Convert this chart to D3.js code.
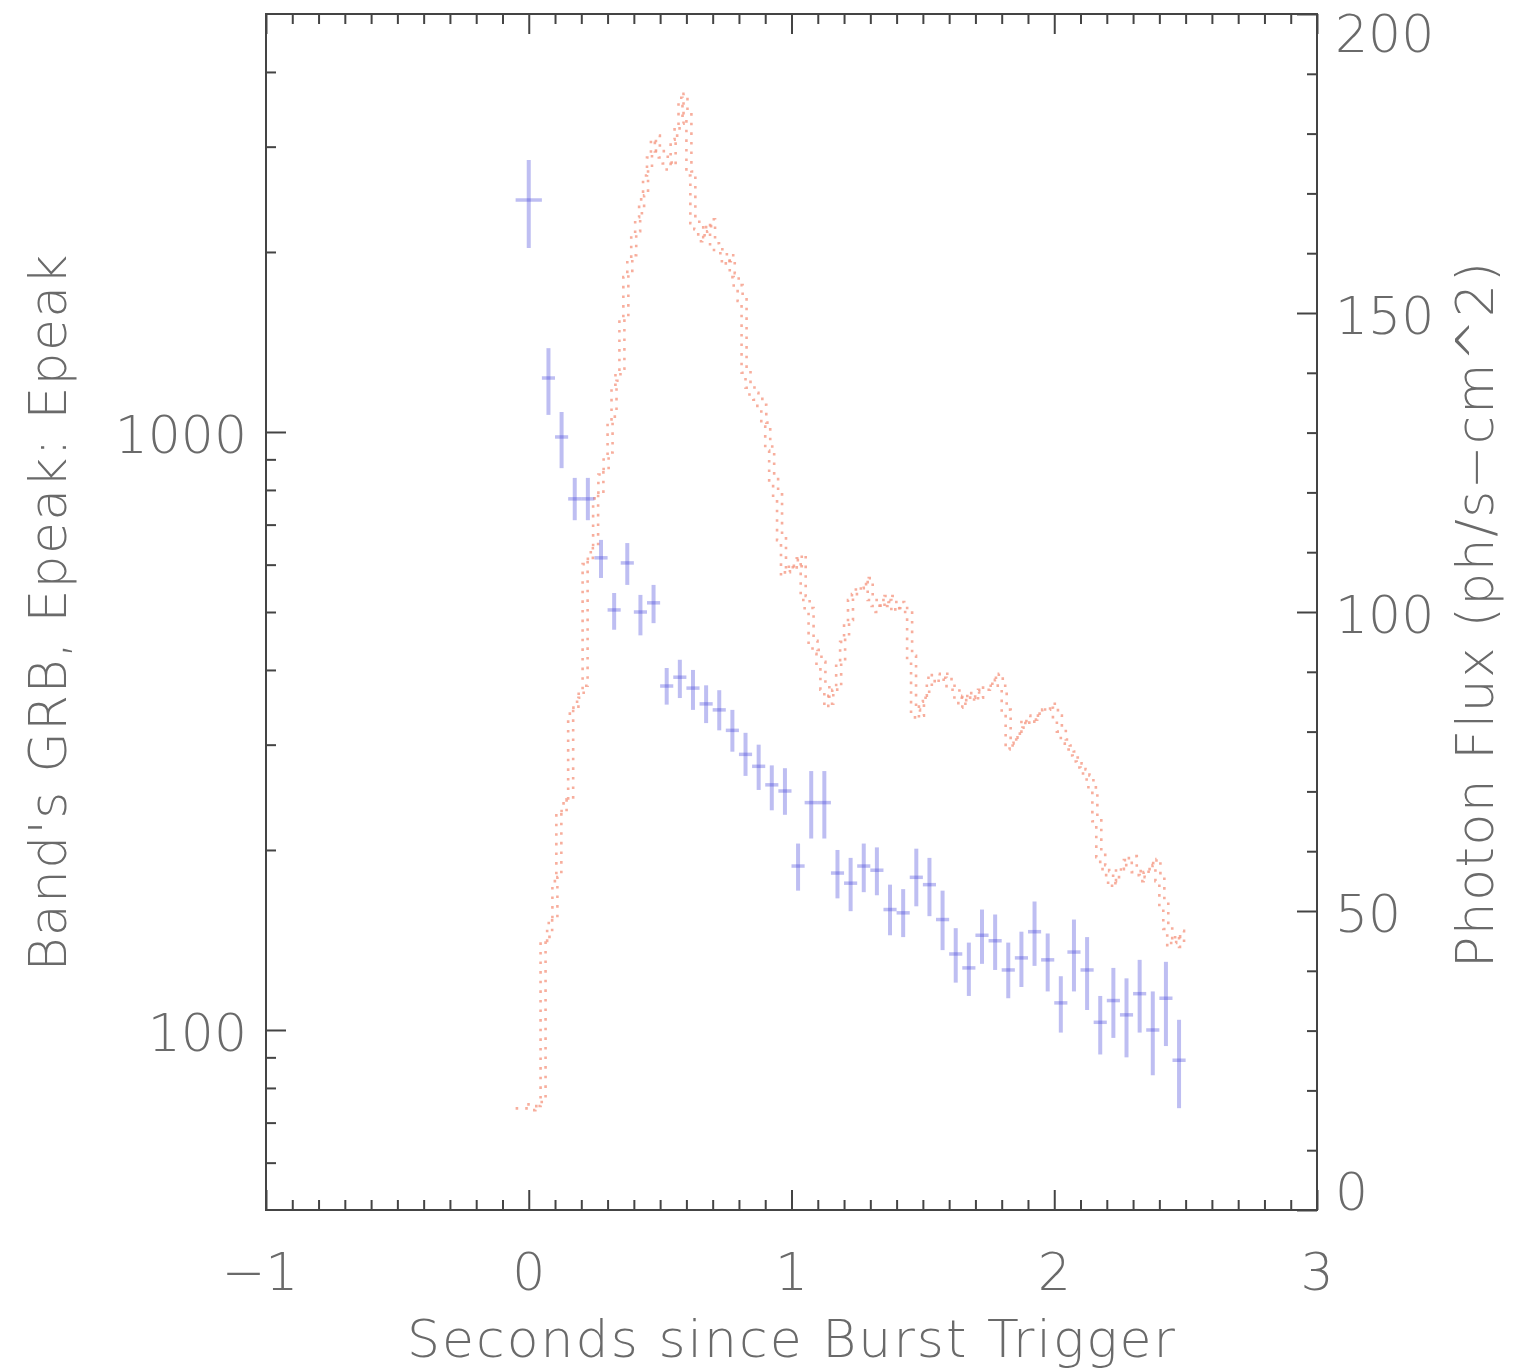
<!DOCTYPE html>
<html>
<head>
<meta charset="utf-8">
<script src="https://cdn.jsdelivr.net/npm/d3@7"></script>
<style>
  html, body { margin: 0; padding: 0; background: #ffffff; }
  svg { display: block; }
  text { font-family: "DejaVu Sans", "Liberation Sans", sans-serif; font-weight: 200; fill: #6a6a6a; }
</style>
</head>
<body>
<svg id="chart" width="1518" height="1368"></svg>
<script>
// ---------------- data ----------------
const xTickLabels = ["\u22121", "0", "1", "2", "3"];
const xTickValues = [-1, 0, 1, 2, 3];
const leftTickValues = [100, 1000];
const leftTickLabels = ["100", "1000"];
const rightTickValues = [0, 50, 100, 150, 200];
const rightTickLabels = ["0", "50", "100", "150", "200"];

// Epeak points (Band's GRB fit)
const epTime = [0, 0.075, 0.125, 0.175, 0.225, 0.275, 0.325, 0.375, 0.425, 0.475,
  0.525, 0.575, 0.625, 0.675, 0.725, 0.775, 0.825, 0.875, 0.925, 0.975,
  1.025, 1.075, 1.125, 1.175, 1.225, 1.275, 1.325, 1.375, 1.425, 1.475,
  1.525, 1.575, 1.625, 1.675, 1.725, 1.775, 1.825, 1.875, 1.925, 1.975,
  2.025, 2.075, 2.125, 2.175, 2.225, 2.275, 2.325, 2.375, 2.425, 2.475];
const epHalfWidth = [0.05, 0.025, 0.025, 0.025, 0.025, 0.025, 0.025, 0.025, 0.025, 0.025,
  0.025, 0.025, 0.025, 0.025, 0.025, 0.025, 0.025, 0.025, 0.025, 0.025,
  0.025, 0.025, 0.025, 0.025, 0.025, 0.025, 0.025, 0.025, 0.025, 0.025,
  0.025, 0.025, 0.025, 0.025, 0.025, 0.025, 0.025, 0.025, 0.025, 0.025,
  0.025, 0.025, 0.025, 0.025, 0.025, 0.025, 0.025, 0.025, 0.025, 0.025];
const epValue = [2443, 1231, 981, 773, 773, 616, 504, 604, 500, 518,
  376, 389, 373, 351, 343, 317, 289, 276, 257, 251,
  188, 240, 240, 183, 176, 188, 185, 159, 157, 180,
  175, 153, 134, 127, 144, 141, 126, 132, 146, 131,
  111, 135, 126, 103, 112, 106, 115, 100, 113, 89];
const epHigh = [2850, 1381, 1080, 838, 838, 660, 538, 652, 534, 555,
  403, 416, 400, 377, 370, 343, 314, 300, 277, 274,
  205, 271, 271, 200, 194, 205, 202, 175, 172, 201,
  194, 171, 148, 140, 159, 156, 140, 146, 164, 145,
  123, 153, 143, 114, 127, 122, 131, 116, 130, 104];
const epLow = [2031, 1068, 870, 712, 712, 570, 467, 555, 457, 479,
  350, 359, 343, 326, 317, 292, 266, 252, 233, 229,
  171, 209, 209, 166, 158, 170, 168, 144, 143, 161,
  155, 136, 120, 114, 129, 126, 113, 118, 128, 116,
  99, 116, 108, 91, 97, 90, 99, 84, 94, 74];

// Photon flux light curve (step bins, left edges)
const fluxTime = [
  -0.05, -0.025, 0, 0.025, 0.045, 0.07, 0.09, 0.105, 0.125, 0.15,
  0.17, 0.19, 0.205, 0.225, 0.245, 0.265, 0.285, 0.3, 0.315, 0.33,
  0.345, 0.36, 0.375, 0.39, 0.405, 0.42, 0.435, 0.45, 0.465, 0.48,
  0.495, 0.51, 0.525, 0.54, 0.555, 0.57, 0.585, 0.6, 0.615, 0.63,
  0.645, 0.66, 0.675, 0.69, 0.705, 0.72, 0.735, 0.75, 0.765, 0.78,
  0.795, 0.81, 0.825, 0.84, 0.855, 0.87, 0.885, 0.9, 0.915, 0.93,
  0.945, 0.96, 0.975, 0.99, 1.005, 1.02, 1.035, 1.05, 1.065, 1.08,
  1.095, 1.11, 1.125, 1.14, 1.155, 1.17, 1.185, 1.2, 1.215, 1.23,
  1.245, 1.26, 1.275, 1.29, 1.305, 1.32, 1.335, 1.35, 1.365, 1.38,
  1.395, 1.41, 1.425, 1.44, 1.455, 1.47, 1.485, 1.5, 1.515, 1.53,
  1.545, 1.56, 1.575, 1.59, 1.605, 1.62, 1.635, 1.65, 1.665, 1.68,
  1.695, 1.71, 1.725, 1.74, 1.755, 1.77, 1.785, 1.8, 1.815, 1.83,
  1.845, 1.86, 1.875, 1.89, 1.905, 1.92, 1.935, 1.95, 1.965, 1.98,
  1.995, 2.01, 2.025, 2.04, 2.055, 2.07, 2.085, 2.1, 2.115, 2.13,
  2.145, 2.16, 2.175, 2.19, 2.205, 2.22, 2.235, 2.25, 2.265, 2.28,
  2.295, 2.31, 2.325, 2.34, 2.355, 2.37, 2.385, 2.4, 2.415, 2.43,
  2.445, 2.46, 2.475, 2.49];
const fluxValue = [
  17, 17, 16.7, 17.4, 45, 48, 55, 66, 68, 83,
  85, 87, 108, 110, 119, 123, 126, 132, 138, 140,
  149, 156, 159, 163, 166, 169, 173, 176, 179, 177,
  176, 175, 174, 179, 181, 186, 183, 173, 165, 164,
  162, 163, 165, 161, 160, 160, 158, 159, 156, 154,
  152, 140, 137.5, 136, 135.5, 134, 131, 127, 122, 119,
  112, 106, 107, 108, 107, 109, 102, 100, 94.5, 93,
  91, 87, 84, 86, 87, 91, 95, 98, 102, 103,
  104, 104, 105, 102, 101, 100, 102, 101, 102, 100,
  101, 100, 100, 92, 83, 82, 85, 86, 89, 89,
  88, 89, 89, 87, 87, 85, 84, 86, 85, 86,
  85, 87, 87, 87, 88, 89, 87, 83, 77, 78,
  79, 80, 82, 81, 82, 82, 83, 83, 84, 84,
  82, 80, 78, 77, 76, 75, 74, 73, 72, 70,
  65, 59, 57, 56, 54, 55, 57, 57, 58.5, 58.5,
  56.5, 56, 55, 56.5, 57, 58, 55, 51, 47, 44,
  45, 46, 44, 44];

// ---------------- layout ----------------
const svg = d3.select("#chart");
const L = 266, R = 1317, T = 14, B = 1210;

const x = d3.scaleLinear().domain([-1, 3]).range([L, R]);
const yLog = d3.scaleLog().domain([50, 5000]).range([B, T]);
const yFlux = d3.scaleLinear().domain([0, 200]).range([B, T]);

const axisColor = "#444";

// ---------------- flux curve ----------------
const fluxData = fluxTime.map((t, i) => [t, fluxValue[i]]);
const stepLine = d3.line()
  .x(d => x(d[0]))
  .y(d => yFlux(d[1]))
  .curve(d3.curveStepAfter);

// the plotted light curve is drawn with a doubled dotted stroke, as in the source plot
[[0, 0, 0], [5, -4, 3]].forEach(([dx, dy, off]) => {
  svg.append("path")
    .datum(fluxData)
    .attr("transform", `translate(${dx},${dy})`)
    .attr("d", stepLine)
    .attr("fill", "none")
    .attr("stroke", "#f59a85")
    .attr("stroke-opacity", 0.8)
    .attr("stroke-width", 2.6)
    .attr("stroke-dasharray", "2.6,7")
    .attr("stroke-dashoffset", off);
});

// ---------------- Epeak error bars ----------------
const epData = epTime.map((t, i) => ({ t, hw: epHalfWidth[i], v: epValue[i], lo: epLow[i], hi: epHigh[i] }));
const eg = svg.append("g");
const barColor = "#3a3ad8";
eg.selectAll("line.v").data(epData).join("line")
  .attr("class", "v")
  .attr("x1", d => x(d.t)).attr("x2", d => x(d.t))
  .attr("y1", d => yLog(d.lo)).attr("y2", d => yLog(d.hi))
  .attr("stroke", barColor).attr("stroke-opacity", 0.33).attr("stroke-width", 4);
eg.selectAll("line.h").data(epData).join("line")
  .attr("class", "h")
  .attr("x1", d => x(d.t - d.hw)).attr("x2", d => x(d.t + d.hw))
  .attr("y1", d => yLog(d.v)).attr("y2", d => yLog(d.v))
  .attr("stroke", barColor).attr("stroke-opacity", 0.33).attr("stroke-width", 3.5);

// ---------------- axes ----------------
function styleAxis(g) {
  g.select(".domain").remove();
  g.selectAll("line").attr("stroke", axisColor).attr("stroke-width", 2);
  g.selectAll("text").remove();
}

const xMinor = d3.range(-10, 31).map(i => i / 10).filter(v => Math.abs(v - Math.round(v)) > 1e-9);
// bottom
svg.append("g").attr("transform", `translate(0,${B})`)
  .call(d3.axisBottom(x).tickValues(xTickValues).tickSize(-20).tickFormat(""))
  .call(styleAxis);
svg.append("g").attr("transform", `translate(0,${B})`)
  .call(d3.axisBottom(x).tickValues(xMinor).tickSize(-10).tickFormat(""))
  .call(styleAxis);
// top
svg.append("g").attr("transform", `translate(0,${T})`)
  .call(d3.axisTop(x).tickValues(xTickValues).tickSize(-20).tickFormat(""))
  .call(styleAxis);
svg.append("g").attr("transform", `translate(0,${T})`)
  .call(d3.axisTop(x).tickValues(xMinor).tickSize(-10).tickFormat(""))
  .call(styleAxis);

// left (log)
const logMinor = [60, 70, 80, 90, 200, 300, 400, 500, 600, 700, 800, 900, 2000, 3000, 4000];
svg.append("g").attr("transform", `translate(${L},0)`)
  .call(d3.axisLeft(yLog).tickValues(leftTickValues).tickSize(-20).tickFormat(""))
  .call(styleAxis);
svg.append("g").attr("transform", `translate(${L},0)`)
  .call(d3.axisLeft(yLog).tickValues(logMinor).tickSize(-10).tickFormat(""))
  .call(styleAxis);

// right (flux)
const fluxMinor = d3.range(0, 201, 10).filter(v => v % 50 !== 0);
svg.append("g").attr("transform", `translate(${R},0)`)
  .call(d3.axisRight(yFlux).tickValues(rightTickValues).tickSize(-20).tickFormat(""))
  .call(styleAxis);
svg.append("g").attr("transform", `translate(${R},0)`)
  .call(d3.axisRight(yFlux).tickValues(fluxMinor).tickSize(-10).tickFormat(""))
  .call(styleAxis);

// frame
svg.append("rect")
  .attr("x", L).attr("y", T).attr("width", R - L).attr("height", B - T)
  .attr("fill", "none").attr("stroke", axisColor).attr("stroke-width", 2);

// ---------------- labels ----------------
const fs = 52;
svg.append("g").selectAll("text").data(xTickValues).join("text")
  .attr("x", d => x(d) - (d < 0 ? 6 : 0))
  .attr("y", 1290)
  .attr("text-anchor", "middle")
  .attr("font-size", fs)
  .text((d, i) => xTickLabels[i]);

svg.append("g").selectAll("text").data(leftTickValues).join("text")
  .attr("x", 247)
  .attr("y", d => yLog(d) + 21)
  .attr("text-anchor", "end")
  .attr("font-size", fs)
  .text((d, i) => leftTickLabels[i]);

svg.append("g").selectAll("text").data(rightTickValues).join("text")
  .attr("x", 1335)
  .attr("y", d => Math.max(52, Math.min(B, yFlux(d) + 21)))
  .attr("text-anchor", "start")
  .attr("font-size", fs)
  .text((d, i) => rightTickLabels[i]);

// axis titles
svg.append("text")
  .attr("x", 791).attr("y", 1357)
  .attr("text-anchor", "middle")
  .attr("font-size", fs)
  .attr("textLength", 768).attr("lengthAdjust", "spacing")
  .text("Seconds since Burst Trigger");

svg.append("text")
  .attr("transform", "translate(66,613) rotate(-90)")
  .attr("text-anchor", "middle")
  .attr("font-size", fs)
  .attr("textLength", 717).attr("lengthAdjust", "spacing")
  .text("Band's GRB, Epeak: Epeak");

svg.append("text")
  .attr("transform", "translate(1493,615) rotate(-90)")
  .attr("text-anchor", "middle")
  .attr("font-size", fs)
  .attr("textLength", 706).attr("lengthAdjust", "spacing")
  .text("Photon Flux (ph/s\u2212cm^2)");
</script>
</body>
</html>
